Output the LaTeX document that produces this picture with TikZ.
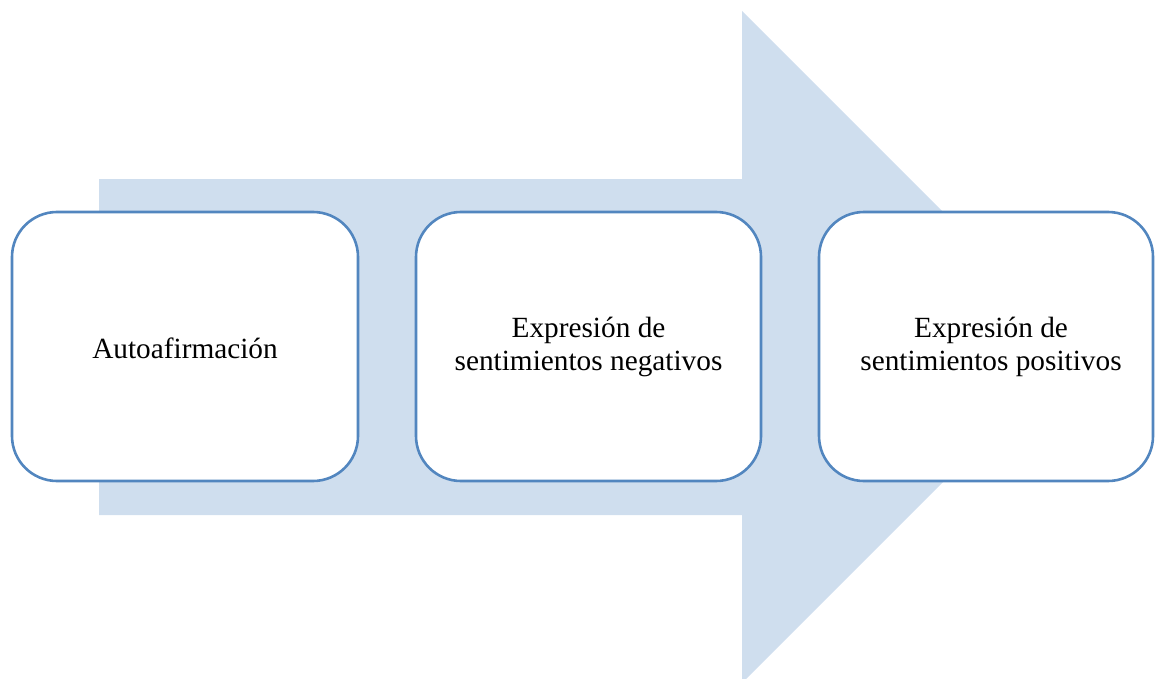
\documentclass[tikz,border=0pt]{standalone}
\usepackage{fontspec}
\setmainfont{Liberation Serif}
\definecolor{arrowfill}{HTML}{CFDEEE}
\definecolor{boxline}{HTML}{5286BF}
\begin{document}
\begin{tikzpicture}[x=1pt,y=-1pt,
  stepbox/.style={draw=boxline,line width=2.6pt,fill=white,rounded corners=45pt},
  lbl/.style={font=\fontsize{29.3}{33}\selectfont,align=center}]
\useasboundingbox (0,0) rectangle (1155,679);
\clip (0,0) rectangle (1155,679);
\fill[arrowfill] (99,179) -- (742,179) -- (742,11) -- (1078,347) -- (742,683) -- (742,515) -- (99,515) -- cycle;
\draw[stepbox] (12,212) rectangle (358,481);
\draw[stepbox] (416,212) rectangle (761,481);
\draw[stepbox] (819,212) rectangle (1153,481);
\coordinate (c1) at (185,348);
\coordinate (c2) at (588.5,347);
\coordinate (c3) at (991,347);
\node[lbl] (t1) at (c1) {Autoafirmación};
\node[lbl] (t2) at (c2) {Expresión de\\sentimientos negativos};
\node[lbl] (t3) at (c3) {Expresión de\\sentimientos positivos};
\end{tikzpicture}
\end{document}
